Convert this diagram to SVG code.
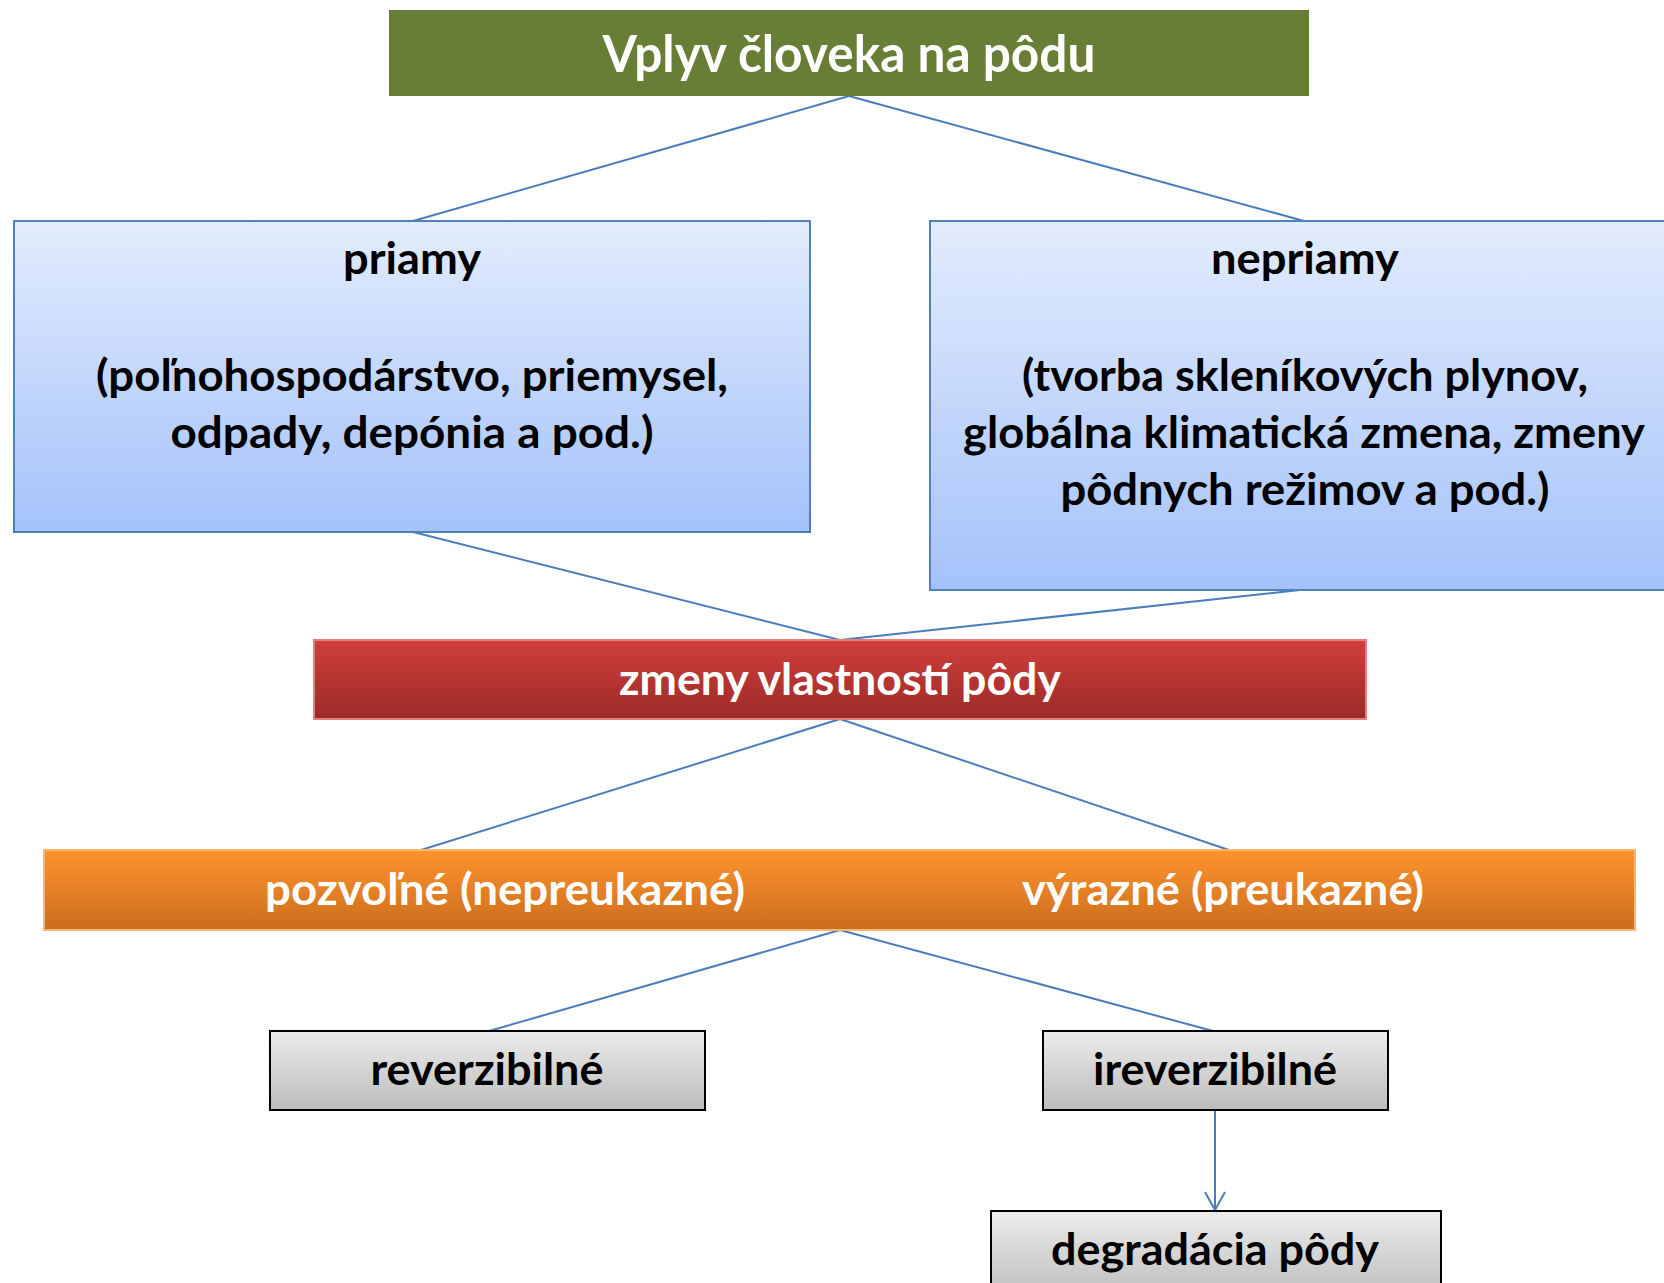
<svg xmlns="http://www.w3.org/2000/svg" width="1664" height="1283" viewBox="0 0 1664 1283">
  <defs>
    <linearGradient id="gBlue" x1="0" y1="0" x2="0" y2="1">
      <stop offset="0" stop-color="#e3ecfd"/>
      <stop offset="1" stop-color="#a4c2fa"/>
    </linearGradient>
    <linearGradient id="gRed" x1="0" y1="0" x2="0" y2="1">
      <stop offset="0" stop-color="#d03f3c"/>
      <stop offset="1" stop-color="#9c2a28"/>
    </linearGradient>
    <linearGradient id="gOrange" x1="0" y1="0" x2="0" y2="1">
      <stop offset="0" stop-color="#fd932d"/>
      <stop offset="1" stop-color="#cc6d1e"/>
    </linearGradient>
    <linearGradient id="gGray" x1="0" y1="0" x2="0" y2="1">
      <stop offset="0" stop-color="#ececec"/>
      <stop offset="1" stop-color="#bcbcbc"/>
    </linearGradient>
    <marker id="arrowOpen" viewBox="0 0 24 24" refX="22" refY="12" markerWidth="24" markerHeight="24" markerUnits="userSpaceOnUse" orient="auto">
      <path d="M4,2 L22,12 L4,22" fill="none" stroke="#4a7ebb" stroke-width="2"/>
    </marker>
  </defs>
  <style>
    .t { font-family: Lato, "Open Sans", "Liberation Sans", sans-serif; font-weight: 700; text-anchor: middle; }
    .w { fill: #ffffff; }
    .k { fill: #000000; }
    .title { font-size: 51px; }
    .body { font-size: 43px; }
    .conn { stroke: #4a7ebb; stroke-width: 2; fill: none; }
    .blue { fill: url(#gBlue); stroke: #4f81bd; stroke-width: 2; }
    .gray { fill: url(#gGray); stroke: #000000; stroke-width: 2; }
  </style>
  <rect x="0" y="0" width="1664" height="1283" fill="#ffffff"/>

  <g id="connectors">
    <line class="conn" x1="849" y1="96" x2="413" y2="221"/>
    <line class="conn" x1="849" y1="96" x2="1304" y2="221"/>
    <line class="conn" x1="413" y1="532" x2="840" y2="640"/>
    <line class="conn" x1="1300" y1="590" x2="840" y2="640"/>
    <line class="conn" x1="840" y1="719" x2="421" y2="850"/>
    <line class="conn" x1="840" y1="719" x2="1229" y2="850"/>
    <line class="conn" x1="840" y1="930" x2="489" y2="1031"/>
    <line class="conn" x1="840" y1="930" x2="1213" y2="1031"/>
    <line class="conn" x1="1215" y1="1110" x2="1215" y2="1210" marker-end="url(#arrowOpen)"/>
  </g>

  <g id="node-title">
    <rect x="389" y="10" width="920" height="86" fill="#687e36"/>
    <text class="t w title" x="849" y="72" textLength="493" lengthAdjust="spacingAndGlyphs">Vplyv človeka na pôdu</text>
  </g>

  <g id="node-priamy">
    <rect class="blue" x="14" y="221" width="796" height="311"/>
    <text class="t k body" x="412" y="274" textLength="138" lengthAdjust="spacingAndGlyphs">priamy</text>
    <text class="t k body" x="412" y="391" textLength="632" lengthAdjust="spacingAndGlyphs">(poľnohospodárstvo, priemysel,</text>
    <text class="t k body" x="412" y="448" textLength="483" lengthAdjust="spacingAndGlyphs">odpady, depónia a pod.)</text>
  </g>

  <g id="node-nepriamy">
    <rect class="blue" x="930" y="221" width="780" height="369"/>
    <text class="t k body" x="1305" y="274" textLength="188" lengthAdjust="spacingAndGlyphs">nepriamy</text>
    <text class="t k body" x="1305" y="391" textLength="566" lengthAdjust="spacingAndGlyphs">(tvorba skleníkových plynov,</text>
    <text class="t k body" x="1304" y="448" textLength="682" lengthAdjust="spacingAndGlyphs">globálna klimatická zmena, zmeny</text>
    <text class="t k body" x="1305" y="505" textLength="489" lengthAdjust="spacingAndGlyphs">pôdnych režimov a pod.)</text>
  </g>

  <g id="node-zmeny">
    <rect x="314" y="640" width="1052" height="79" fill="url(#gRed)" stroke="#e57f7c" stroke-width="2"/>
    <text class="t w body" x="840" y="695" textLength="442" lengthAdjust="spacingAndGlyphs">zmeny vlastností pôdy</text>
  </g>

  <g id="node-zmeny-typ">
    <rect x="44" y="850" width="1591" height="80" fill="url(#gOrange)" stroke="#fbb56f" stroke-width="2"/>
    <text class="t w body" x="505" y="905" textLength="480" lengthAdjust="spacingAndGlyphs">pozvoľné (nepreukazné)</text>
    <text class="t w body" x="1223" y="905" textLength="402" lengthAdjust="spacingAndGlyphs">výrazné (preukazné)</text>
  </g>

  <g id="node-reverzibilne">
    <rect class="gray" x="270" y="1031" width="435" height="79"/>
    <text class="t k body" x="487" y="1085" textLength="233" lengthAdjust="spacingAndGlyphs">reverzibilné</text>
  </g>

  <g id="node-ireverzibilne">
    <rect class="gray" x="1043" y="1031" width="345" height="79"/>
    <text class="t k body" x="1215" y="1085" textLength="244" lengthAdjust="spacingAndGlyphs">ireverzibilné</text>
  </g>

  <g id="node-degradacia">
    <rect class="gray" x="991" y="1211" width="450" height="90"/>
    <text class="t k body" x="1215" y="1265" textLength="328" lengthAdjust="spacingAndGlyphs">degradácia pôdy</text>
  </g>
</svg>
